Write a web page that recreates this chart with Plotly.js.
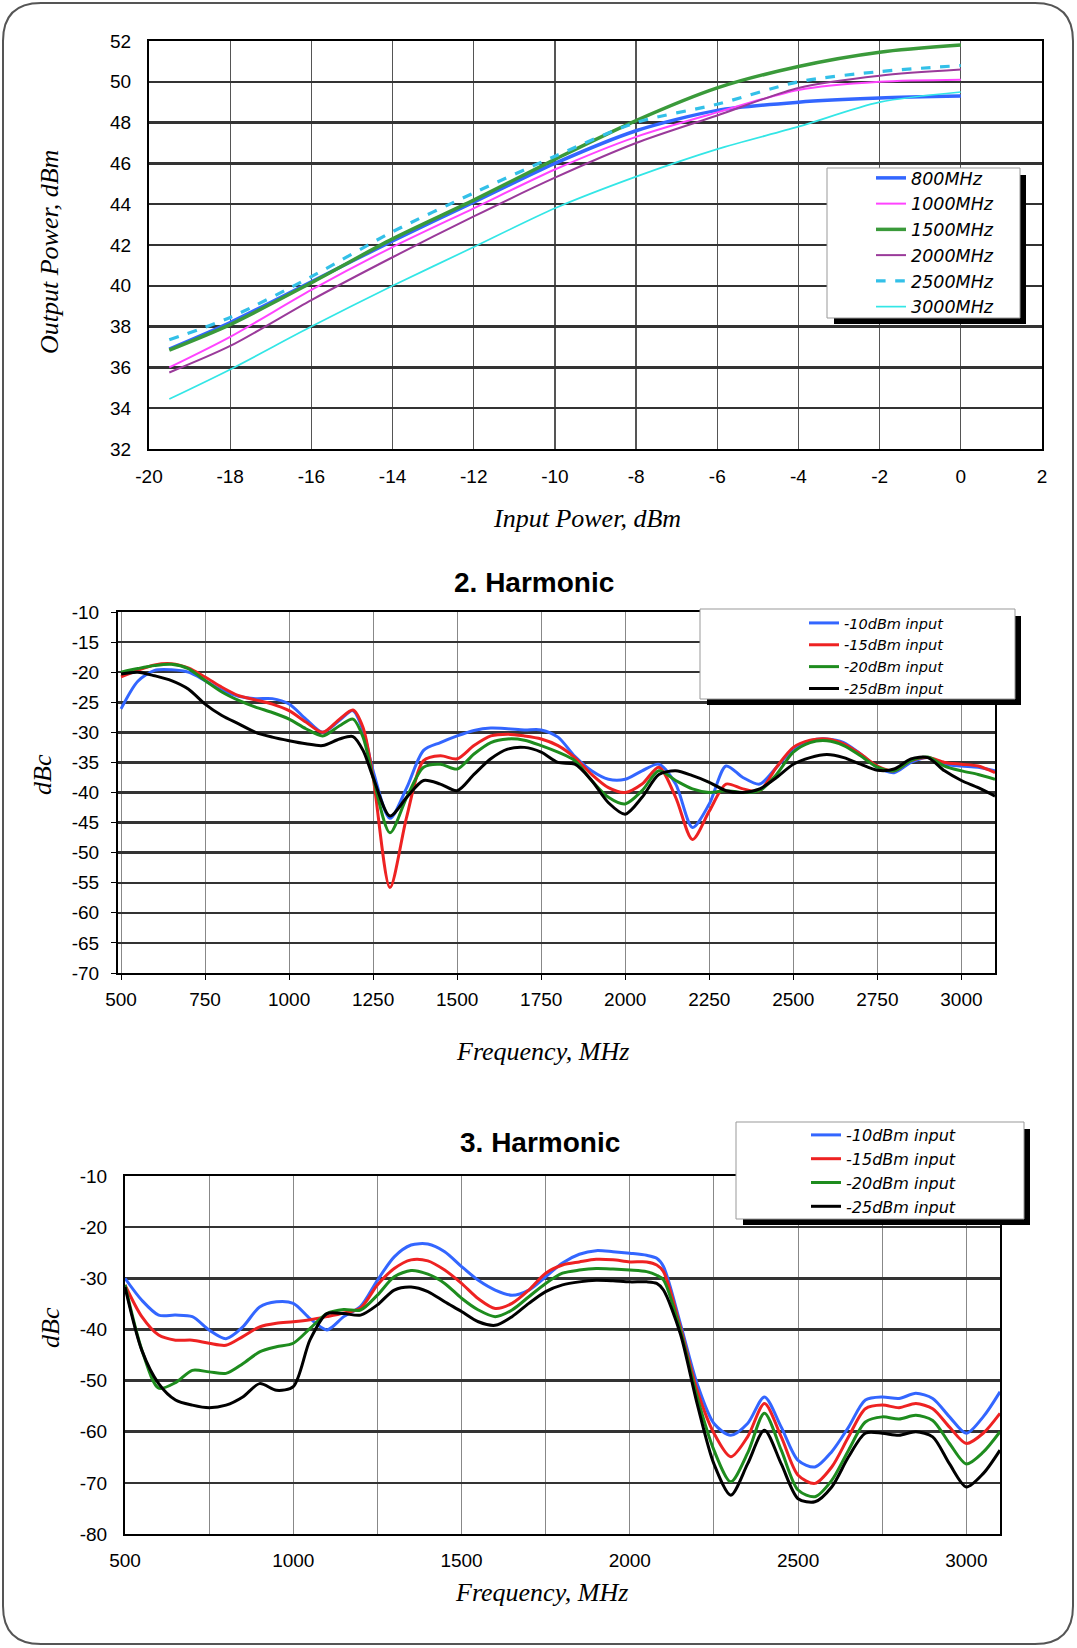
<!DOCTYPE html>
<html>
<head>
<meta charset="utf-8">
<script src="https://cdn.plot.ly/plotly-3.0.1.min.js"></script>
<style>
html,body{margin:0;padding:0;background:#fff;}
#chart{width:1077px;height:1648px;}
</style>
</head>
<body>
<div id="chart"></div>
<script>
// ---------- Chart 1: Output power vs input power ----------
const inputPower = [-19.5,-18,-16,-14,-12,-10,-8,-6,-4,-2,0];
const out800  = [36.9,38.2,40.2,42.2,44.1,46.0,47.6,48.6,49.0,49.2,49.3];
const out1000 = [36.0,37.5,39.8,41.9,43.8,45.7,47.3,48.5,49.6,50.0,50.1];
const out1500 = [36.85,38.1,40.15,42.3,44.2,46.2,48.1,49.7,50.75,51.45,51.8];
const out2000 = [35.75,37.05,39.3,41.4,43.4,45.3,47.0,48.35,49.7,50.3,50.6];
const out2500 = [37.35,38.45,40.45,42.65,44.55,46.35,48.0,48.9,50.0,50.5,50.8];
const out3000 = [34.45,35.9,38.0,40.0,41.9,43.8,45.35,46.7,47.8,49.0,49.5];
const freqLabels1 = ["800MHz","1000MHz","1500MHz","2000MHz","2500MHz","3000MHz"];
const xTicks1 = [-20,-18,-16,-14,-12,-10,-8,-6,-4,-2,0,2];
const yTicks1 = [32,34,36,38,40,42,44,46,48,50,52];

// ---------- Chart 2: 2. Harmonic ----------
const freq2 = [500,550,600,650,700,750,800,850,900,950,1000,1050,1100,1150,1190,1220,
  1250,1300,1350,1400,1450,1500,1550,1600,1650,1700,1750,1800,1850,1900,1950,2000,2050,
  2100,2150,2200,2250,2300,2350,2400,2450,2500,2550,2600,2650,2700,2750,2800,2850,2900,
  2950,3000,3050,3100];
const h2m10 = [-26.1,-21.5,-19.7,-19.6,-20,-21.4,-23,-24,-24.4,-24.4,-25.3,-27.8,-30,-28,-26.4,-29.7,
  -36.4,-44.3,-39.2,-33,-31.7,-30.6,-29.7,-29.3,-29.4,-29.6,-29.6,-30.8,-34,-36.4,-37.8,-37.8,-36.4,
  -35.3,-38.6,-45.8,-41.9,-35.6,-37.5,-38.6,-35.8,-32.8,-31.4,-31.1,-31.7,-33.6,-35.8,-36.7,-35,-34.2,
  -35.3,-35.6,-35.8,-36.4];
const h2m15 = [-20.8,-19.7,-18.8,-18.6,-19.3,-20.8,-22.5,-23.9,-24.6,-25.3,-26.4,-28.3,-30,-27.8,-26.3,-29.2,
  -37.5,-55.8,-44,-34.7,-33.9,-34.4,-32.2,-30.6,-30.3,-30.6,-31.1,-32.2,-34.2,-37,-39.2,-40,-38.6,
  -35.8,-40.8,-47.8,-43.1,-38.6,-39.4,-39.7,-35.8,-32.5,-31.3,-31.1,-31.9,-33.6,-35.6,-36.4,-34.7,-34.2,
  -35,-35.3,-35.6,-36.7];
const h2m20 = [-20,-19.4,-18.9,-18.7,-19.4,-21.4,-23.3,-24.7,-25.8,-26.7,-27.8,-29.4,-30.6,-28.9,-27.8,-30.8,
  -37.5,-46.7,-40.8,-35.8,-35.3,-36.1,-33.6,-31.7,-31.1,-31.3,-32.2,-33.3,-34.7,-38,-40.8,-41.9,-39.7,
  -36.4,-38,-39.4,-40,-39.7,-40,-39.7,-37,-33.3,-31.7,-31.4,-32.2,-33.9,-35.8,-36.4,-34.7,-34.1,
  -35.6,-36.4,-37,-37.8];
const h2m25 = [-20.3,-20,-20.6,-21.4,-22.8,-25.3,-27.2,-28.6,-30,-30.8,-31.4,-31.9,-32.2,-31.1,-30.7,-33,
  -37.5,-43.9,-40.8,-38,-38.6,-39.7,-37,-34.4,-32.8,-32.5,-33.3,-35,-35.3,-38,-41.7,-43.6,-40.8,
  -37,-36.4,-37.2,-38.3,-39.7,-40,-39.4,-37.5,-35.3,-34.2,-33.7,-34.2,-35.3,-36.3,-36.1,-34.4,-34.2,
  -36.4,-38,-39.2,-40.6];
const yTicks2 = [-70,-65,-60,-55,-50,-45,-40,-35,-30,-25,-20,-15,-10];

// ---------- Chart 3: 3. Harmonic ----------
const freq3 = [500,550,600,650,700,750,800,850,900,950,1000,1050,1100,1150,1200,1250,1300,1350,
  1400,1450,1500,1550,1600,1650,1700,1750,1800,1850,1900,1950,2000,2050,2080,2100,2150,2200,
  2250,2300,2350,2400,2450,2500,2550,2600,2650,2700,2750,2800,2850,2900,2950,3000,3050,3100];
const h3m10 = [-30,-34.3,-37.2,-37.2,-37.5,-40.1,-41.8,-39.5,-35.6,-34.6,-34.9,-37.9,-40.1,-37.5,-35.5,-30.4,-25.8,-23.5,
  -23.3,-24.8,-27.7,-30.4,-32.3,-33.3,-32.3,-29.7,-27,-25.3,-24.6,-24.8,-25.1,-25.5,-26.1,-27.7,-38.8,-50.6,
  -58.4,-60.7,-58.4,-53.2,-59.1,-65.6,-66.9,-63.9,-59.1,-53.8,-53.2,-53.5,-52.5,-53.5,-57.1,-60.3,-57.1,-52.2];
const h3m15 = [-31.3,-37.5,-41.1,-42.1,-42.1,-42.7,-43.1,-41.4,-39.5,-38.8,-38.5,-38.1,-37.5,-36.8,-35.8,-31.3,-28.1,-26.4,
  -26.6,-28.4,-31,-34,-35.9,-34.9,-32.3,-29,-27.4,-26.8,-26.3,-26.4,-26.8,-26.8,-27.4,-28.7,-39.5,-51.9,
  -60.3,-64.9,-61,-54.5,-61,-68.5,-70.1,-66.9,-61,-55.5,-54.8,-55.3,-54.5,-55.5,-59.1,-62.3,-60.3,-56.4];
const h3m20 = [-31.3,-44,-51.5,-50.4,-48,-48.3,-48.6,-46.7,-44.4,-43.4,-42.7,-39.8,-36.9,-36.1,-36.2,-33.3,-29.7,-28.5,
  -29.2,-31,-33.9,-36.2,-37.5,-36.2,-33.6,-31,-29,-28.4,-28.1,-28.2,-28.4,-28.7,-29.4,-30.3,-40.1,-53.2,
  -63.6,-69.8,-64.2,-56.4,-63.6,-71.4,-72.7,-69.5,-63.6,-58.1,-57.1,-57.5,-56.8,-57.8,-62.3,-66.3,-64,-60];
const h3m25 = [-31.7,-44.1,-50.6,-53.8,-54.8,-55.3,-54.8,-53.2,-50.6,-51.9,-51.2,-42,-36.9,-36.9,-37.2,-35.2,-32.3,-31.7,
  -32.6,-34.6,-36.5,-38.5,-39.2,-37.5,-34.9,-32.6,-31.3,-30.7,-30.4,-30.5,-30.7,-30.7,-31,-32.3,-40.8,-54.5,
  -66.3,-72.4,-66.3,-59.7,-66.3,-73.1,-73.7,-70.8,-64.9,-60.3,-60.3,-60.7,-60,-61,-66.3,-70.8,-68.2,-63.6];
const yTicks3 = [-80,-70,-60,-50,-40,-30,-20,-10];
const inputLabels = ["-10dBm input","-15dBm input","-20dBm input","-25dBm input"];

// ---------- layout helpers ----------
const W = 1077, H = 1648;
const px = x => x / W;
const py = y => 1 - y / H;
const dom = (a, b) => [a / W, b / W];
const domY = (top, bottom) => [1 - bottom / H, 1 - top / H];

const tickFont = {family: "Liberation Sans, Arial, sans-serif", size: 19, color: "#000"};
const axTitleFont = {family: "Liberation Serif, Times New Roman, serif", size: 26, color: "#000", style: "italic"};
const legFont = s => ({family: "DejaVu Sans, Verdana, sans-serif", size: s, color: "#000", style: "italic"});
const arr = (vals) => ({tickmode: "array", tickvals: vals, ticktext: vals.map(v => String(v))});

const spl = {shape: "spline", smoothing: 0.8};

const traces = [];
const c1 = [
  {y: out800,  color: "#3366ff", width: 3.5, dash: "solid"},
  {y: out1000, color: "#ff44ff", width: 2, dash: "solid"},
  {y: out1500, color: "#3a9a3a", width: 3.5, dash: "solid"},
  {y: out2000, color: "#9a3a9a", width: 2, dash: "solid"},
  {y: out2500, color: "#33c0e8", width: 3.2, dash: "dash"},
  {y: out3000, color: "#33e6e6", width: 1.7, dash: "solid"}
];
c1.forEach((s, i) => traces.push({
  x: inputPower, y: s.y, name: freqLabels1[i], type: "scatter", mode: "lines",
  line: Object.assign({color: s.color, width: s.width, dash: s.dash}, spl),
  xaxis: "x", yaxis: "y", legend: "legend"
}));
const hc = ["#3366ff", "#ee2222", "#1e8c1e", "#000000"];
[h2m10, h2m15, h2m20, h2m25].forEach((ys, i) => traces.push({
  x: freq2, y: ys, name: inputLabels[i], type: "scatter", mode: "lines",
  line: Object.assign({color: hc[i], width: 3}, spl),
  xaxis: "x2", yaxis: "y2", legend: "legend2"
}));
[h3m10, h3m15, h3m20, h3m25].forEach((ys, i) => traces.push({
  x: freq3, y: ys, name: inputLabels[i], type: "scatter", mode: "lines",
  line: Object.assign({color: hc[i], width: 3}, spl),
  xaxis: "x3", yaxis: "y3", legend: "legend3"
}));

const baseX = {
  showline: true, mirror: true, linecolor: "#000", linewidth: 2,
  showgrid: true, zeroline: false, ticks: "", tickfont: tickFont,
  fixedrange: true
};
const baseY = Object.assign({}, baseX, {gridcolor: "#333", gridwidth: 2.5});

function roundRect(x0, y0, x1, y1, r) {
  return `M ${px(x0 + r)},${py(y0)} L ${px(x1 - r)},${py(y0)} Q ${px(x1)},${py(y0)} ${px(x1)},${py(y0 + r)} ` +
         `L ${px(x1)},${py(y1 - r)} Q ${px(x1)},${py(y1)} ${px(x1 - r)},${py(y1)} ` +
         `L ${px(x0 + r)},${py(y1)} Q ${px(x0)},${py(y1)} ${px(x0)},${py(y1 - r)} ` +
         `L ${px(x0)},${py(y0 + r)} Q ${px(x0)},${py(y0)} ${px(x0 + r)},${py(y0)} Z`;
}
function legendBox(x0, y0, x1, y1) {
  return [
    {type: "rect", xref: "paper", yref: "paper", layer: "above",
     x0: px(x0 + 7), x1: px(x1 + 6), y0: py(y1 + 6), y1: py(y0 + 7),
     fillcolor: "#000", line: {width: 0}},
    {type: "rect", xref: "paper", yref: "paper", layer: "above",
     x0: px(x0), x1: px(x1), y0: py(y1), y1: py(y0),
     fillcolor: "#fff", line: {color: "#999", width: 1}}
  ];
}
function label(text, x, y, angle, font) {
  return {text: text, xref: "paper", yref: "paper", x: px(x), y: py(y),
          xanchor: "center", yanchor: "middle", showarrow: false,
          textangle: angle, font: font};
}
const chartTitleFont = {family: "Liberation Sans, Arial, sans-serif", size: 28, color: "#000"};

const layout = {
  width: W, height: H,
  margin: {l: 0, r: 0, t: 0, b: 0},
  paper_bgcolor: "#fff", plot_bgcolor: "#fff",
  font: {family: "Liberation Sans, Arial, sans-serif", color: "#000"},
  xaxis: Object.assign({}, baseX, arr(xTicks1), {
    domain: dom(149, 1042), range: [-20, 2],
    gridcolor: "#555", gridwidth: 1.2, anchor: "y",
    ticklabelstandoff: 9
  }),
  yaxis: Object.assign({}, baseY, arr(yTicks1), {
    domain: domY(41, 449), range: [32, 52], anchor: "x",
    ticklabelstandoff: 12
  }),
  xaxis2: Object.assign({}, baseX, {
    domain: dom(118, 995), range: [491, 3100], dtick: 250, tick0: 500,
    gridcolor: "#888", gridwidth: 1, anchor: "y2",
    ticks: "outside", ticklen: 5, tickcolor: "#000",
    ticklabelstandoff: 3
  }),
  yaxis2: Object.assign({}, baseY, arr(yTicks2), {
    domain: domY(612, 973), range: [-70, -10], anchor: "x2",
    ticks: "outside", ticklen: 5, tickcolor: "#000",
    ticklabelstandoff: 8
  }),
  xaxis3: Object.assign({}, baseX, {
    domain: dom(125, 1000), range: [500, 3100], dtick: 500, tick0: 500,
    gridcolor: "#888", gridwidth: 1, anchor: "y3",
    minor: {dtick: 250, showgrid: true, gridcolor: "#888", gridwidth: 1},
    ticklabelstandoff: 8
  }),
  yaxis3: Object.assign({}, baseY, arr(yTicks3), {
    domain: domY(1176, 1534), range: [-80, -10], anchor: "x3",
    ticklabelstandoff: 12
  }),
  legend: {
    x: px(871), y: py(160), xanchor: "left", yanchor: "top",
    bgcolor: "rgba(0,0,0,0)", borderwidth: 0, font: legFont(17.5),
    tracegroupgap: 0
  },
  legend2: {
    x: px(804), y: py(607), xanchor: "left", yanchor: "top",
    bgcolor: "rgba(0,0,0,0)", borderwidth: 0, font: legFont(14.5),
    tracegroupgap: 0
  },
  legend3: {
    x: px(806), y: py(1118), xanchor: "left", yanchor: "top",
    bgcolor: "rgba(0,0,0,0)", borderwidth: 0, font: legFont(16),
    tracegroupgap: 0
  },
  annotations: [
    label("<b>2. Harmonic</b>", 534, 582, 0, chartTitleFont),
    label("<b>3. Harmonic</b>", 540, 1142, 0, chartTitleFont),
    label("Input Power, dBm", 587, 518, 0, axTitleFont),
    label("Output Power, dBm", 49, 252, -90, axTitleFont),
    label("Frequency, MHz", 542, 1051, 0, axTitleFont),
    label("dBc", 42, 775, -90, axTitleFont),
    label("Frequency, MHz", 541, 1592, 0, axTitleFont),
    label("dBc", 50, 1328, -90, axTitleFont)
  ],
  shapes: [
    {type: "path", xref: "paper", yref: "paper", layer: "below",
     path: roundRect(3, 3, 1073, 1644, 38), line: {color: "#555", width: 2}, fillcolor: "rgba(0,0,0,0)"}
  ].concat(legendBox(827, 168, 1020, 318), legendBox(700, 609, 1015, 699), legendBox(736, 1122, 1024, 1219)),
  showlegend: true
};

Plotly.newPlot("chart", traces, layout, {displayModeBar: false, staticPlot: true});
</script>
</body>
</html>
